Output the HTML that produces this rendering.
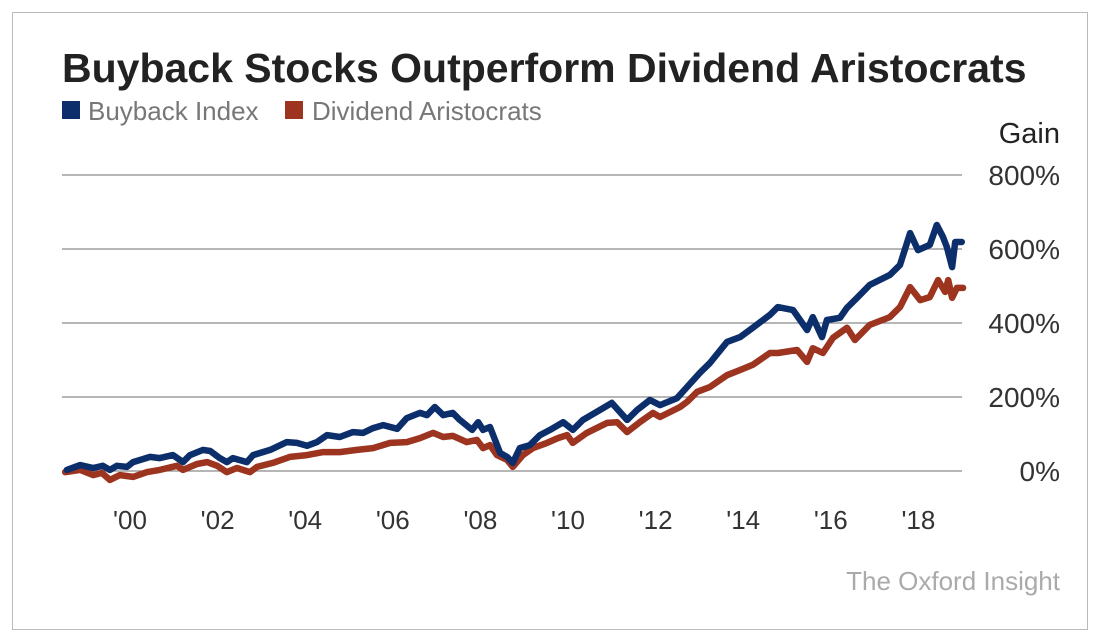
<!DOCTYPE html>
<html><head><meta charset="utf-8">
<style>
body{margin:0;background:#fff;font-family:"Liberation Sans",sans-serif;}
#frame{position:absolute;left:12px;top:12px;width:1074px;height:616px;border:1px solid #bbb;}
</style></head><body>
<div id="frame"></div>
<svg width="1100" height="642" style="position:absolute;left:0;top:0">
<text x="62" y="82" font-size="41" font-weight="bold" fill="#222">Buyback Stocks Outperform Dividend Aristocrats</text>
<g>
<rect x="62" y="101" width="18" height="18" fill="#0c2f6c"/>
<text x="88" y="120" font-size="26" fill="#777">Buyback Index</text>
<rect x="285" y="101" width="18" height="18" fill="#9c3420"/>
<text x="312" y="120" font-size="26" fill="#777">Dividend Aristocrats</text>
</g>
<text x="1060" y="143" font-size="29" fill="#222" text-anchor="end">Gain</text>
<g id="grid"></g><g id="ylabels"></g><g id="xlabels"></g><g id="lines"></g>
<text x="1060" y="590" font-size="26" fill="#aaa" text-anchor="end">The Oxford Insight</text>
</svg>
<script>
const yTicks=[0,200,400,600,800];
const yTickLabels=["0%","200%","400%","600%","800%"];
const xTicks=[2000,2002,2004,2006,2008,2010,2012,2014,2016,2018];
const xTickLabels=["'00","'02","'04","'06","'08","'10","'12","'14","'16","'18"];
const buybackDates=[1998.56,1998.86,1999.16,1999.38,1999.54,1999.70,1999.93,2000.07,2000.46,2000.68,2000.98,2001.21,2001.37,2001.67,2001.83,2002.05,2002.21,2002.35,2002.67,2002.81,2003.20,2003.58,2003.81,2004.04,2004.27,2004.50,2004.79,2005.09,2005.32,2005.55,2005.78,2006.10,2006.32,2006.62,2006.78,2006.96,2007.15,2007.37,2007.53,2007.81,2007.95,2008.06,2008.22,2008.45,2008.61,2008.74,2008.90,2009.13,2009.36,2009.59,2009.89,2010.11,2010.34,2010.73,2011.00,2011.35,2011.58,2011.87,2012.10,2012.49,2012.72,2013.01,2013.24,2013.63,2013.93,2014.22,2014.61,2014.79,2015.14,2015.46,2015.59,2015.80,2015.91,2016.21,2016.37,2016.60,2016.89,2017.35,2017.58,2017.81,2017.99,2018.26,2018.42,2018.56,2018.65,2018.77,2018.84,2018.99];
const buybackValues=[3,16,8,14,3,14,11,24,38,35,43,24,43,57,54,35,24,35,24,43,57,78,76,68,78,97,92,105,103,116,124,114,143,157,151,173,151,157,138,111,132,111,119,49,38,22,62,70,97,111,132,111,138,165,184,138,165,192,178,197,227,265,292,349,362,387,422,443,435,381,416,362,408,414,441,468,503,530,557,643,597,611,665,633,605,551,619,619];
const dividendDates=[1998.52,1998.86,1999.16,1999.36,1999.54,1999.77,2000.07,2000.39,2000.68,2001.07,2001.21,2001.53,2001.76,2001.99,2002.21,2002.44,2002.74,2002.90,2003.26,2003.65,2004.04,2004.41,2004.79,2005.18,2005.55,2005.94,2006.32,2006.62,2006.92,2007.15,2007.37,2007.69,2007.92,2008.06,2008.22,2008.38,2008.61,2008.74,2008.97,2009.20,2009.52,2009.77,2009.98,2010.11,2010.43,2010.89,2011.12,2011.35,2011.64,2011.94,2012.10,2012.56,2012.72,2012.95,2013.24,2013.63,2013.93,2014.22,2014.61,2014.79,2015.23,2015.46,2015.59,2015.82,2016.05,2016.37,2016.55,2016.89,2017.35,2017.58,2017.81,2018.04,2018.26,2018.45,2018.61,2018.68,2018.77,2018.88,2019.02];
const dividendValues=[-3,3,-11,-5,-24,-11,-16,-3,3,14,3,19,24,14,-3,8,-3,11,22,38,43,51,51,57,62,76,78,89,103,92,95,78,84,62,70,43,30,11,43,62,76,89,97,76,103,130,132,105,132,157,146,173,187,214,227,259,273,287,319,319,327,295,332,319,360,387,354,395,416,443,497,462,470,516,484,516,468,495,495];

const NS="http://www.w3.org/2000/svg";
function xs(t){return 130+(t-2000)*43.8;}
function ys(v){return 471-v*0.37;}
function mk(tag,attrs,parent){const e=document.createElementNS(NS,tag);for(const k in attrs)e.setAttribute(k,attrs[k]);document.getElementById(parent).appendChild(e);return e;}
yTicks.forEach((v,i)=>{
  const l=mk('line',{x1:62,x2:962,y1:ys(v),y2:ys(v),stroke:'#8a8a8a','stroke-width':1.3},'grid');
  
  
  const t=mk('text',{x:1060,y:ys(v)+10,'font-size':28,fill:'#333','text-anchor':'end'},'ylabels');
  t.textContent=yTickLabels[i];
  
  
});
xTicks.forEach((yr,i)=>{
  const t=mk('text',{x:xs(yr),y:529,'font-size':26,fill:'#333','text-anchor':'middle'},'xlabels');
  t.textContent=xTickLabels[i];
  
  
});
function path(d,v){return d.map((t,i)=>(i?'L':'M')+xs(t).toFixed(1)+','+ys(v[i]).toFixed(1)).join('');}
const pr=mk('path',{d:path(dividendDates,dividendValues),fill:'none',stroke:'#9c3420','stroke-width':6.5,'stroke-linejoin':'round','stroke-linecap':'round'},'lines');


const pb=mk('path',{d:path(buybackDates,buybackValues),fill:'none',stroke:'#0c2f6c','stroke-width':6.5,'stroke-linejoin':'round','stroke-linecap':'round'},'lines');


</script>
</body></html>
